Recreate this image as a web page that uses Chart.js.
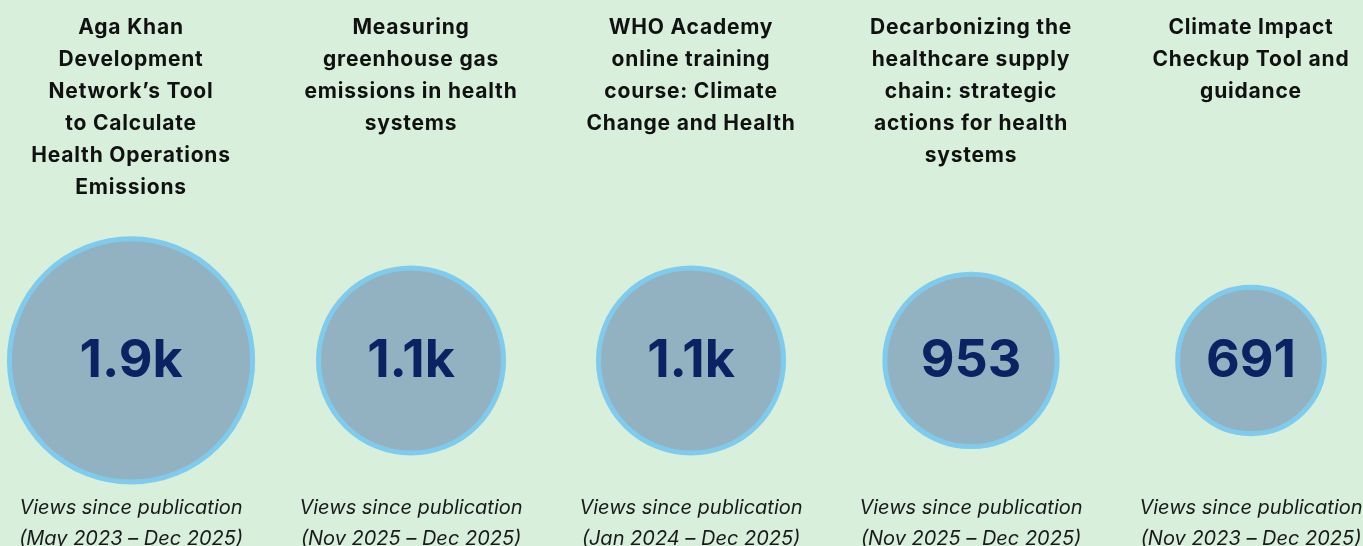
<!DOCTYPE html>
<html>
<head>
<meta charset="utf-8">
<script src="https://cdn.jsdelivr.net/npm/chart.js@4"></script>
<style>
  html, body { margin: 0; padding: 0; background: #d7efdb; }
  #wrap { position: relative; width: 1363px; height: 546px; }
</style>
</head>
<body>
<div id="wrap"><canvas id="views-chart"></canvas></div>
<script>
// 各资源标题、浏览量与统计时段
var titles = [
  ["Aga Khan", "Development", "Network’s Tool", "to Calculate", "Health Operations", "Emissions"],
  ["Measuring", "greenhouse gas", "emissions in health", "systems"],
  ["WHO Academy", "online training", "course: Climate", "Change and Health"],
  ["Decarbonizing the", "healthcare supply", "chain: strategic", "actions for health", "systems"],
  ["Climate Impact", "Checkup Tool and", "guidance"]
];
var views = [1900, 1100, 1100, 953, 691];
var valueLabels = ["1.9k", "1.1k", "1.1k", "953", "691"];
var periods = [
  "(May 2023 – Dec 2025)",
  "(Nov 2025 – Dec 2025)",
  "(Jan 2024 – Dec 2025)",
  "(Nov 2025 – Dec 2025)",
  "(Nov 2023 – Dec 2025)"
];
var captionText = "Views since publication";

// 圆面积与浏览量成正比
var radiusScale = 2.79;

var textPlugin = {
  id: "bubbleText",
  afterDatasetsDraw: function (chart) {
    var ctx = chart.ctx;
    var meta = chart.getDatasetMeta(0);
    ctx.save();
    ctx.textAlign = "center";
    ctx.textBaseline = "alphabetic";
    for (var i = 0; i < views.length; i++) {
      var pt = meta.data[i];
      var x = pt.x;

      // 标题
      ctx.fillStyle = "#111111";
      ctx.font = "700 21px Inter";
      ctx.letterSpacing = "0.8px";
      for (var j = 0; j < titles[i].length; j++) {
        ctx.fillText(titles[i][j], x, 34 + j * 32);
      }
      ctx.letterSpacing = "0px";

      // 数值
      ctx.fillStyle = "#0c2262";
      ctx.font = "700 52px Inter";
      ctx.textBaseline = "middle";
      ctx.fillText(valueLabels[i], x, pt.y + 1);
      ctx.textBaseline = "alphabetic";

      // 说明
      ctx.fillStyle = "#1a1a1a";
      ctx.font = "italic 400 20px Inter";
      ctx.fillText(captionText, x, 514);
      ctx.fillText(periods[i], x, 545);
    }
    ctx.restore();
  }
};

var ctx = document.getElementById("views-chart").getContext("2d");
new Chart(ctx, {
  type: "bubble",
  data: {
    datasets: [{
      data: views.map(function (v, i) {
        return { x: i, y: 0, r: radiusScale * Math.sqrt(v) };
      }),
      backgroundColor: "#93b2c1",
      borderColor: "#7fcbed",
      borderWidth: 5,
      hoverRadius: 0,
      hoverBorderWidth: 5,
      clip: false
    }]
  },
  options: {
    responsive: true,
    maintainAspectRatio: false,
    animation: false,
    events: [],
    layout: { padding: 0, autoPadding: false },
    plugins: {
      legend: { display: false },
      tooltip: { enabled: false }
    },
    scales: {
      x: { type: "linear", min: -0.468, max: 4.4, display: false },
      y: { type: "linear", min: -1, max: 1.943, display: false }
    }
  },
  plugins: [textPlugin]
});
</script>
</body>
</html>
